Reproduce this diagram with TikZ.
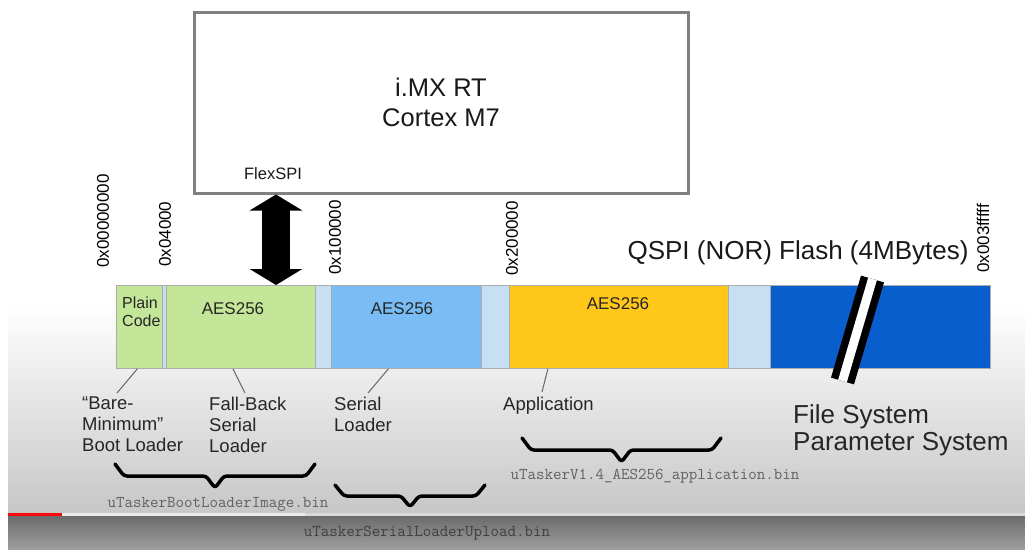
\documentclass[tikz,border=0pt]{standalone}
\usepackage{fontspec}
\setmainfont{Liberation Sans}
\usepackage{tikz}
\usetikzlibrary{arrows.meta}

\definecolor{codegreen}{RGB}{196,230,152}
\definecolor{gapblue}{RGB}{198,223,243}
\definecolor{loaderblue}{RGB}{122,189,246}
\definecolor{appyellow}{RGB}{255,199,26}
\definecolor{fsblue}{RGB}{8,94,205}
\definecolor{tubered}{RGB}{250,10,10}

% brace under the segments: x1, x2, y of ends, y of bar, y of tip
\newcommand{\binbrace}[5]{%
  \draw[brace] (#1,#3) -- (#1+9,#4) -- ({(#1+#2)/2-9},#4) -- ({(#1+#2)/2},#5)
    -- ({(#1+#2)/2+9},#4) -- (#2-9,#4) -- (#2,#3);}

\begin{document}
\begin{tikzpicture}[x=1pt, y=-1pt,
    seg/.style={draw=gray!65, line width=0.8pt, anchor=north west, inner sep=0, minimum height=83},
    segtext/.style={text=black!85, font=\fontsize{17}{20}\selectfont},
    addr/.style={rotate=90, anchor=west, inner sep=0, font=\fontsize{17}{20}\selectfont},
    part/.style={anchor=north west, inner sep=0, align=left, text=black!85, font=\fontsize{18.5}{21}\selectfont},
    leader/.style={draw=black!60, line width=1pt},
    brace/.style={draw=black, line width=3.5pt, rounded corners=3pt, line join=round, line cap=round},
    binname/.style={text=black!62, font=\ttfamily\fontsize{16.5}{18}\selectfont},
    flexbus/.style={line width=28pt, {Triangle[length=16pt,width=52pt]}-{Triangle[length=16pt,width=52pt]}}]
  \useasboundingbox (0,0) rectangle (1025,549);

  % screen background
  \fill[white] (0,0) rectangle (1025,549);
  \shade[top color=white, bottom color=black!22] (8,305) rectangle (1025,513);
  \shade[top color=black!58, bottom color=black!38] (8,516) rectangle (1025,549);
  \fill[black!15] (8,513) rectangle (1025,516);
  \fill[black!8] (62,513) rectangle (305,516);
  \fill[tubered] (8,513) rectangle (62,516);

  % processor
  \node[draw=black!50, line width=3pt, minimum width=494, minimum height=181, align=center,
        text=black!90, font=\fontsize{25.5}{30}\selectfont] (cpu) at (441,102.5) {i.MX RT\\Cortex M7};
  \node[text=black!90, font=\fontsize{16.5}{19}\selectfont] (flexspi) at (273,174) {FlexSPI};

  % flash segments
  \node[seg, fill=codegreen, minimum width=46] (plain) at (116,285) {};
  \node[seg, fill=gapblue, minimum width=4] (gapa) at (162,285) {};
  \node[seg, fill=codegreen, minimum width=149] (fbl) at (166,285) {};
  \node[seg, fill=gapblue, minimum width=16] (gapb) at (315,285) {};
  \node[seg, fill=loaderblue, minimum width=150] (sld) at (331,285) {};
  \node[seg, fill=gapblue, minimum width=28] (gapc) at (481,285) {};
  \node[seg, fill=appyellow, minimum width=219] (app) at (509,285) {};
  \node[seg, fill=gapblue, minimum width=42] (gapd) at (728,285) {};
  \node[seg, fill=fsblue, minimum width=220] (fs) at (770,285) {};

  \node[segtext, anchor=north west, inner sep=0, align=left, font=\fontsize{16}{18}\selectfont]
    (plaintext) at (122,297) {Plain\\Code};
  \node[segtext] (fbltext) at (233,309) {AES256};
  \node[segtext] (sldtext) at (402,309) {AES256};
  \node[segtext] (apptext) at (618,304) {AES256};

  \draw[flexbus] ([xshift=3pt]cpu.south -| flexspi) -- ([xshift=3pt]flexspi |- fbl.north);

  % break in the file system area
  \draw[black, line width=24pt] (872.5,279) -- (842.5,381);
  \draw[white, line width=9pt] (872.5,279) -- (842.5,381);

  % addresses
  \node[addr] (a0) at (103,268) {0x00000000};
  \node[addr] (a1) at (165,267) {0x04000};
  \node[addr] (a2) at (335,275) {0x100000};
  \node[addr] (a3) at (512,276) {0x200000};
  \node[addr] (a4) at (983,273) {0x003fffff};
  \node[text=black!90, font=\fontsize{26}{30}\selectfont] (qspi) at (798,253) {QSPI (NOR) Flash (4MBytes)};

  % what is in each segment
  \node[part] (bare) at (82,397) {``Bare-\\Minimum''\\Boot Loader};
  \node[part] (fallback) at (209,397) {Fall-Back\\Serial\\Loader};
  \node[part] (serial) at (334,397) {Serial\\Loader};
  \node[part] (appl) at (503,397) {Application};
  \node[part, font=\fontsize{26}{27}\selectfont] (fsys) at (793,404) {File System\\Parameter System};

  \coordinate (bareend) at (117,393);
  \coordinate (fallbackend) at (245,393);
  \coordinate (serialend) at (368,393);
  \coordinate (applend) at (542,392);
  \draw[leader] ([xshift=-2pt]plain.south) -- (bareend);
  \draw[leader] ([xshift=-8pt]fbl.south) -- (fallbackend);
  \draw[leader] ([xshift=-18pt]sld.south) -- (serialend);
  \draw[leader] ([xshift=-71pt]app.south) -- (applend);

  % binaries
  \binbrace{115}{315}{464}{476}{488}
  \binbrace{335}{485}{485}{496}{507}
  \binbrace{522}{721}{438}{450}{462}
  \node[binname] (bootbin) at (218,504) {uTaskerBootLoaderImage.bin};
  \node[binname, text=black!75] (serialbin) at (427,533) {uTaskerSerialLoaderUpload.bin};
  \node[binname] (appbin) at (655,476) {uTaskerV1.4\_AES256\_application.bin};
\end{tikzpicture}
\end{document}
